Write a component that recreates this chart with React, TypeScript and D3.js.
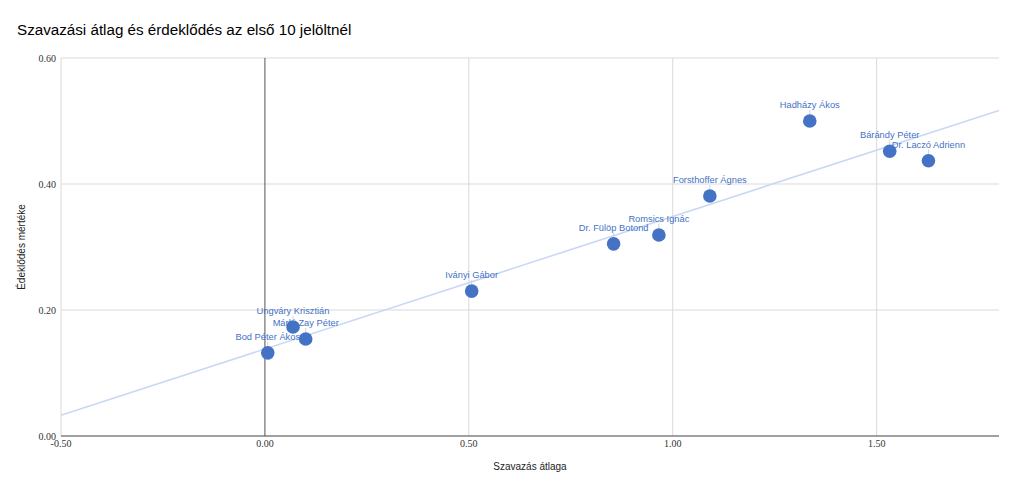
import { line, mean, scaleLinear } from 'd3';

const candidates = [
  'Bod Péter Ákos',
  'Ungváry Krisztián',
  'Márki-Zay Péter',
  'Iványi Gábor',
  'Dr. Fülöp Botond',
  'Romsics Ignác',
  'Forsthoffer Ágnes',
  'Hadházy Ákos',
  'Bárándy Péter',
  'Dr. Laczó Adrienn',
];
const voteAverages = [0.007, 0.069, 0.1, 0.507, 0.855, 0.966, 1.091, 1.336, 1.532, 1.627];
const interestLevels = [0.132, 0.173, 0.154, 0.23, 0.305, 0.319, 0.381, 0.5, 0.452, 0.437];

const xTicks = [-0.5, 0, 0.5, 1, 1.5];
const yTicks = [0, 0.2, 0.4, 0.6];

const WIDTH = 1024;
const HEIGHT = 486;
const MARGIN = { top: 58, right: 25, bottom: 50, left: 61 };
const POINT_COLOR = '#4472c4';
const TREND_COLOR = '#c9d8f4';
const SANS = 'Arial, "Liberation Sans", sans-serif';
const SERIF = '"Liberation Serif", "Times New Roman", serif';

// simple least squares fit for the trendline
function linearFit(xs: number[], ys: number[]) {
  const mx = mean(xs) ?? 0;
  const my = mean(ys) ?? 0;
  let num = 0;
  let den = 0;
  xs.forEach((x, i) => {
    num += (x - mx) * (ys[i] - my);
    den += (x - mx) * (x - mx);
  });
  const slope = num / den;
  return { slope, intercept: my - slope * mx };
}

export default function App() {
  const xScale = scaleLinear()
    .domain([-0.5, 1.8])
    .range([MARGIN.left, WIDTH - MARGIN.right]);
  const yScale = scaleLinear()
    .domain([0, 0.6])
    .range([HEIGHT - MARGIN.bottom, MARGIN.top]);

  const fit = linearFit(voteAverages, interestLevels);
  const [x0, x1] = xScale.domain();
  const trendPath = line<number>()
    .x((d) => xScale(d))
    .y((d) => yScale(fit.intercept + fit.slope * d))([x0, x1]);

  const plotBottom = HEIGHT - MARGIN.bottom;
  const plotRight = WIDTH - MARGIN.right;

  return (
    <>
      <style>{'body{margin:0}'}</style>
      <svg width={WIDTH} height={HEIGHT} style={{ display: 'block', background: '#fff' }}>
        <text x={17} y={35} fontFamily={SANS} fontSize={15.2} fill="#000">
          Szavazási átlag és érdeklődés az első 10 jelöltnél
        </text>

        <g>
          {yTicks.map((t) => (
            <line
              key={`gy-${t}`}
              x1={MARGIN.left}
              x2={plotRight}
              y1={yScale(t)}
              y2={yScale(t)}
              stroke="#d9d9d9"
              strokeWidth={1}
            />
          ))}
          {xTicks.map((t) => (
            <line
              key={`gx-${t}`}
              x1={xScale(t)}
              x2={xScale(t)}
              y1={MARGIN.top}
              y2={plotBottom}
              stroke={t === 0 ? '#555' : '#d9d9d9'}
              strokeWidth={1}
            />
          ))}
          <line x1={MARGIN.left} x2={plotRight} y1={plotBottom} y2={plotBottom} stroke="#555" strokeWidth={1.2} />
        </g>

        <g fontFamily={SERIF} fontSize={10} fill="#333">
          {yTicks.map((t) => (
            <text key={`ty-${t}`} x={MARGIN.left - 5} y={yScale(t) + 3.5} textAnchor="end">
              {t.toFixed(2)}
            </text>
          ))}
          {xTicks.map((t) => (
            <text key={`tx-${t}`} x={xScale(t)} y={plotBottom + 11} textAnchor="middle">
              {t.toFixed(2)}
            </text>
          ))}
        </g>

        <text
          x={(MARGIN.left + plotRight) / 2}
          y={470}
          textAnchor="middle"
          fontFamily={SANS}
          fontSize={10}
          fill="#222"
        >
          Szavazás átlaga
        </text>
        <text
          transform={`translate(25 ${(MARGIN.top + plotBottom) / 2}) rotate(-90)`}
          textAnchor="middle"
          fontFamily={SANS}
          fontSize={10}
          fill="#222"
        >
          Édeklődés mértéke
        </text>

        <path d={trendPath ?? ''} fill="none" stroke={TREND_COLOR} strokeWidth={1.6} />

        <g>
          {candidates.map((name, i) => {
            const cx = xScale(voteAverages[i]);
            const cy = yScale(interestLevels[i]);
            return (
              <g key={name}>
                <line x1={cx} x2={cx} y1={cy - 11} y2={cy - 7} stroke="#d0d0d0" strokeWidth={1} />
                <circle cx={cx} cy={cy} r={6.8} fill={POINT_COLOR} />
                <text
                  x={cx}
                  y={cy - 12.8}
                  textAnchor="middle"
                  fontFamily={SANS}
                  fontSize={9.3}
                  fill={POINT_COLOR}
                >
                  {name}
                </text>
              </g>
            );
          })}
        </g>
      </svg>
    </>
  );
}
